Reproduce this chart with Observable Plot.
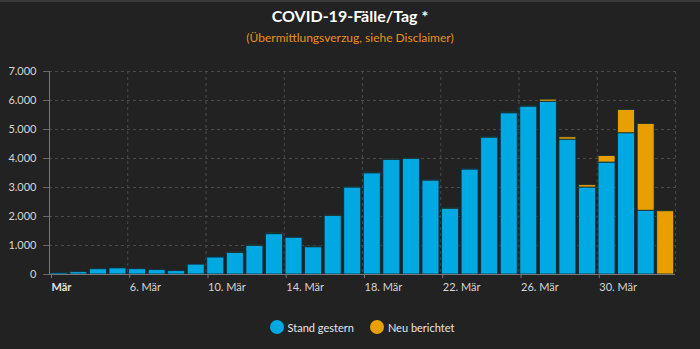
<!DOCTYPE html>
<html>
<head>
<meta charset="utf-8">
<script src="https://cdn.jsdelivr.net/npm/d3@7"></script>
<script src="https://cdn.jsdelivr.net/npm/@observablehq/plot@0.6"></script>
<style>
  html, body { margin: 0; padding: 0; background: #222222; }
  #wrap { position: relative; width: 700px; height: 349px; background: #222222; overflow: hidden; font-family: Lato, "Open Sans", sans-serif; border-top: 2px solid #3a3a3a; box-sizing: border-box; }
  #title { position: absolute; top: 4px; left: 0; width: 700px; text-align: center; color: #ffffff; font-weight: bold; font-size: 16px; }
  #subtitle { position: absolute; top: 28px; left: 0; width: 700px; text-align: center; color: #e8921c; font-size: 12px; }
  #chart { position: absolute; top: 48px; left: 0; }
  #legend { position: absolute; top: 318px; left: 24px; width: 676px; display: flex; justify-content: center; gap: 16px; color: #e6e6e6; font-size: 11px; }
  .item { display: flex; align-items: center; gap: 4px; }
  .dot { width: 14px; height: 14px; border-radius: 50%; display: inline-block; }
</style>
</head>
<body>
<div id="wrap">
  <div id="title">COVID-19-Fälle/Tag *</div>
  <div id="subtitle">(Übermittlungsverzug, siehe Disclaimer)</div>
  <div id="chart"></div>
  <div id="legend"></div>
</div>
<script>
// Days 2. Mär .. 2. Apr
const days = ["2.3","3.3","4.3","5.3","6.3","7.3","8.3","9.3","10.3","11.3","12.3","13.3","14.3","15.3","16.3","17.3","18.3","19.3","20.3","21.3","22.3","23.3","24.3","25.3","26.3","27.3","28.3","29.3","30.3","31.3","1.4","2.4"];
const standGestern = [45,80,180,210,180,150,115,340,590,745,990,1390,1270,940,2020,3000,3490,3950,3990,3240,2270,3620,4720,5560,5790,5960,4650,3000,3860,4870,2200,0];
const neuBerichtet = [0,0,0,0,0,0,0,0,20,20,20,30,25,30,20,30,30,30,25,30,30,30,30,30,30,70,80,80,225,800,2990,2180];
const seriesNames = ["Stand gestern", "Neu berichtet"];
const seriesColors = ["#00a9e2", "#e8a000"];
const xTickPos = [0, 4, 8, 12, 16, 20, 24, 28];
const xTickLabels = ["Mär", "6. Mär", "10. Mär", "14. Mär", "18. Mär", "22. Mär", "26. Mär", "30. Mär"];
const yTicks = [0, 1000, 2000, 3000, 4000, 5000, 6000, 7000];

const rows = [];
days.forEach((d, i) => rows.push({i, day: d, series: seriesNames[0], value: standGestern[i]}));
days.forEach((d, i) => rows.push({i, day: d, series: seriesNames[1], value: neuBerichtet[i]}));

const de = d3.formatLocale({decimal: ",", thousands: ".", grouping: [3], currency: ["", " €"]});
const fmt = de.format(",d");

const chart = Plot.plot({
  width: 700,
  height: 252,
  marginLeft: 49,
  marginRight: 25,
  marginTop: 21,
  marginBottom: 28,
  style: {background: "transparent", color: "#d0d0d0", fontSize: "11px", fontFamily: "Lato, 'Open Sans', sans-serif"},
  x: {type: "linear", domain: [0, days.length], axis: null},
  y: {domain: [0, 7000], axis: null},
  color: {domain: seriesNames, range: seriesColors},
  marks: [
    Plot.gridY(yTicks.slice(1), {stroke: "#4a4a4a", strokeOpacity: 1, strokeDasharray: "3,3"}),
    Plot.gridX([4, 8, 12, 16, 20, 24, 28, 32], {stroke: "#4a4a4a", strokeOpacity: 1, strokeDasharray: "3,3"}),
    Plot.rectY(rows, {x1: d => d.i, x2: d => d.i + 1, y: "value", fill: "series", insetLeft: 1.3, insetRight: 1.3, stroke: "#0e2a38", strokeWidth: 0.8}),
    Plot.ruleX([0], {stroke: "#777", strokeWidth: 1}),
    Plot.ruleY([0], {stroke: "#777", strokeWidth: 1}),
    Plot.axisY(yTicks, {anchor: "left", label: null, tickSize: 6, tickPadding: 7, tickFormat: fmt, stroke: "#666", fill: "#d6d6d6", fontSize: 11}),
    Plot.axisX([xTickPos[0]], {anchor: "bottom", label: null, tickSize: 4, tickPadding: 5, tickFormat: () => xTickLabels[0], textAnchor: "start", dx: 2, fontWeight: "bold", stroke: "#777", fill: "#e0e0e0", fontSize: 11}),
    Plot.axisX(xTickPos.slice(1), {anchor: "bottom", label: null, tickSize: 4, tickPadding: 5, tickFormat: (d) => xTickLabels[xTickPos.indexOf(d)], textAnchor: "start", dx: 2, stroke: "#777", fill: "#d6d6d6", fontSize: 11})
  ]
});
document.getElementById("chart").appendChild(chart);

const legend = document.getElementById("legend");
seriesNames.forEach((n, k) => {
  const it = document.createElement("div");
  it.className = "item";
  const dot = document.createElement("span");
  dot.className = "dot";
  dot.style.background = seriesColors[k];
  const t = document.createElement("span");
  t.textContent = n;
  it.appendChild(dot); it.appendChild(t);
  legend.appendChild(it);
});
</script>
</body>
</html>
